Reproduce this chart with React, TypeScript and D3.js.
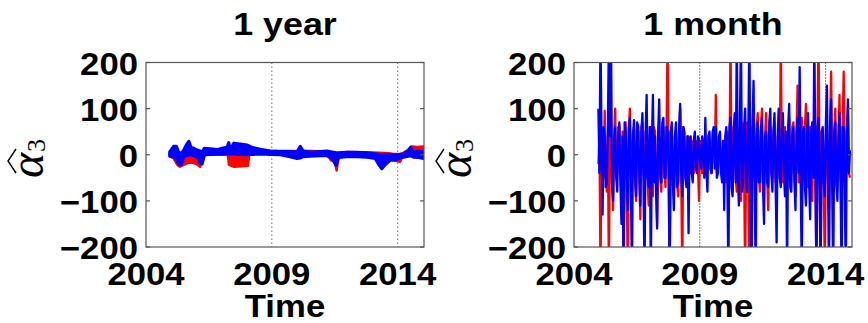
import React from "react";
import * as d3 from "d3";

// ---------- axes ----------
const YEAR_TICKS = [2004, 2009, 2014];
const GRID_YEARS = [2009, 2014];
const VALUE_TICKS = [-200, -100, 0, 100, 200];
const X_DOMAIN: [number, number] = [2004, 2015.05];
const Y_DOMAIN: [number, number] = [-200, 200];
const TITLES = ["1 year", "1 month"];
const X_LABEL = "Time";

// ---------- 1 year window (band envelopes of the dense series) ----------
const yearBlueTime = [2004.945, 2005.1, 2005.21, 2005.3, 2005.4, 2005.5, 2005.61, 2005.7, 2005.79, 2005.9, 2006.03, 2006.14, 2006.23, 2006.32, 2006.56, 2006.82, 2007.02, 2007.22, 2007.29, 2007.35, 2007.49, 2007.75, 2008.01, 2008.21, 2008.54, 2008.94, 2009.34, 2009.73, 2010.0, 2010.13, 2010.24, 2010.53, 2010.92, 2011.19, 2011.39, 2011.56, 2011.65, 2011.98, 2012.38, 2012.78, 2013.11, 2013.24, 2013.37, 2013.5, 2013.7, 2013.97, 2014.23, 2014.43, 2014.52, 2014.63, 2014.83, 2015.04];
const yearBlueLo = [-3, -5, -10, -20, -22, -4, -2, 0, 0, -2, -4, -18, -20, 0, 1, 2, 2, 3, 2, 2, 2, 1, 0, 1, 2, 1, 0, -4, -8, -7, -4, -3, -2, -2, -8, -23, -6, -4, -4, -5, -8, -20, -30, -22, -12, -10, -5, -3, -2, -5, -6, -8];
const yearBlueHi = [6, 18, 18, 5, 3, 10, 22, 29, 16, 14, 10, 8, 6, 14, 13, 11, 14, 16, 26, 10, 25, 23, 21, 16, 12, 8, 7, 7, 6, 18, 8, 6, 7, 8, 6, 4, 4, 5, 5, 4, 2, 1, 0, 1, 0, 0, 2, 8, 16, 5, 8, 6];

const yearRedTime = [2004.95, 2005.1, 2005.25, 2005.35, 2005.5, 2005.65, 2005.85, 2006.0, 2006.15, 2006.25, 2006.35, 2007.25, 2007.3, 2007.5, 2007.8, 2008.05, 2008.1, 2008.5, 2009.0, 2009.9, 2010.5, 2011.2, 2011.35, 2011.5, 2011.58, 2011.65, 2012.0, 2013.0, 2013.7, 2013.8, 2014.1, 2014.2, 2014.4, 2014.55, 2014.8, 2015.04];
const yearRedLo = [-3, -8, -22, -26, -22, -18, -17, -20, -26, -10, 0, 0, -22, -26, -25, -24, 0, 2, 2, 2, 2, 1, -12, -14, -34, -5, 0, 0, -2, -12, -15, -3, 2, 5, 3, 0];
const yearRedHi = [3, 2, 0, 0, 0, 2, 2, 0, 0, 2, 5, 5, 3, 3, 3, 3, 5, 8, 8, 8, 8, 7, 3, 3, 2, 4, 6, 5, 3, 2, 1, 3, 10, 18, 17, 18];

// ---------- 1 month window (half-month samples) ----------
const MONTH_START = 2004.97;
const MONTH_STEP = 1 / 24;
const monthRed = [
  -20, 40, -260, 30, 40, -50, 95, -30, -80, 40, -260, 50, 30, -60, -120, 40, 100, -50, -40, 60, 60, -40, -90, 50,
  -260, 40, 70, -60, -260, 50, 100, -40, -60, 50, 60, -60, -100, 40, 50, -50, -140, 60, 70, -40, -60, 50, 40, -60,
  -110, 40, 60, -50, -90, 60, 50, -40, -150, 30, 30, -50, -80, 60, 60, -40, -70, 50, 260, -40, -260, 50, 40, -50,
  -60, 40, 50, -60, -90, 50, 100, -40, -260, 60, 40, -50, -60, 40, 40, -30, -40, 30, 20, -40, -30, 30, 20, -30,
  -100, 30, 20, -40, -30, 20, 10, -30, -20, 40, 30, -30, -40, 40, 30, -20, 130, -40, -40, 40, 30, -30, -30, 30,
  20, -40, -60, 50, 40, -50, 260, -40, -80, 60, 60, -50, -80, 50, 40, -60, -100, 70, 60, -40, -260, 50, 70, -60,
  -260, 40, -260, 60, 50, -50, -70, 60, 90, -40, -80, 50, 100, -60, -60, 40, 90, -50, -120, 60, 60, -40, -50, 50,
  70, -60, -40, 40, 40, -50, 260, -40, -60, 50, 60, -60, -50, 40, 80, -50, -40, 60, 70, -40, -90, 50, 150, -60,
  -60, 40, 80, -50, -50, 60, 110, -40, -70, 50, 60, -60, -100, 40, 40, -50, -260, 60, 260, -40, -260, 50, 50, -60,
  -260, 40, 60, -50, -120, 60, 180, -40, -60, 50, 100, -60, -80, 40, 130, -50, -70, 60, 180, -40, -60, 50, 90, -40,
  -50,
];
const monthBlue = [
  100, -40, 260, 30, -130, 60, 40, -70, -60, 50, 260, 40, 260, -50, -100, 30, 60, -50, -80, 40, 70, -60, -150, 40,
  -260, 70, 50, -40, -120, 60, 80, -70, -260, 40, 75, -50, -90, 70, 60, -40, -110, 50, 90, -60, -260, 40, 130, -50,
  -70, 60, -260, 30, 130, -60, 40, -80, -160, 50, 120, -40, -60, 70, 80, -50, -50, 60, 50, -40, -260, 50, 70, -60,
  -120, 40, 70, -70, -60, 60, 110, -40, -90, 60, 50, -50, -70, 40, -170, 30, 40, -40, -60, 30, 50, -30, -40, 40,
  30, -20, -30, 40, 20, -50, 80, -30, -80, 40, 50, -30, -40, 50, 60, -30, 60, -50, -40, 40, 50, -40, -60, 30,
  -120, 40, 60, -50, -260, 60, 80, -70, -90, 50, 90, -60, 260, -40, -110, 70, 260, -80, -60, 60, 100, -70, -80, 50,
  260, -60, -260, 60, 160, -50, -260, 40, 70, -60, -60, 50, 80, -70, -150, 40, 50, -60, -70, 70, 100, -40, -80, 50,
  90, -60, -190, 40, 100, -50, -70, 60, 90, -40, -90, 50, -260, 60, 110, -70, -80, 40, 60, -60, -120, 50, 80, -40,
  190, -60, -260, 50, 60, -70, -110, 40, 90, -60, -140, 50, 70, -50, 260, -40, -260, 60, 80, -70, -260, 50, 60, -60,
  -90, 70, 150, -50, -260, 60, 120, -70, -260, 50, 70, -60, -100, 40, 90, -70, -260, 60, 60, -80, -260, 50, 120, -40,
  10,
];

// ---------- layout ----------
const PANEL_LEFTS = [146, 574];
const PLOT_W = 278;
const TOP = 62.5;
const BOTTOM = 247;
const SX = 1.12;
const SANS = "'Liberation Sans', Arial, Helvetica, sans-serif";
const RED = "#ff0000";
const BLUE = "#0000ff";

function Txt({ x, y, anchor, size, children }: any) {
  return (
    <text
      transform={`translate(${x},${y}) scale(${SX},1)`}
      textAnchor={anchor}
      fontSize={size}
      fontWeight="bold"
      fontFamily={SANS}
      fill="#000"
    >
      {children}
    </text>
  );
}

function Panel({ idx }: { idx: number }) {
  const left = PANEL_LEFTS[idx];
  const x = d3.scaleLinear().domain(X_DOMAIN).range([left, left + PLOT_W]);
  const y = d3.scaleLinear().domain(Y_DOMAIN).range([BOTTOM, TOP]);
  const clipId = `clip${idx}`;
  const center = left + PLOT_W / 2;

  let marks: React.ReactNode = null;
  if (idx === 0) {
    const band = (t: number[], lo: number[], hi: number[]) =>
      d3
        .area<number>()
        .x((i) => x(t[i]))
        .y0((i) => y(lo[i]))
        .y1((i) => y(hi[i]))(d3.range(t.length)) || "";
    marks = (
      <g clipPath={`url(#${clipId})`}>
        <path d={band(yearRedTime, yearRedLo, yearRedHi)} fill={RED} stroke={RED} strokeWidth={2.5} strokeLinejoin="round" />
        <path d={band(yearBlueTime, yearBlueLo, yearBlueHi)} fill={BLUE} stroke={BLUE} strokeWidth={3.2} strokeLinejoin="round" />
      </g>
    );
  } else {
    const line = d3
      .line<number>()
      .x((_, i) => x(MONTH_START + i * MONTH_STEP))
      .y((d) => y(d));
    marks = (
      <g clipPath={`url(#${clipId})`}>
        <path d={line(monthRed) || ""} fill="none" stroke={RED} strokeWidth={2.3} strokeLinejoin="round" />
        <path d={line(monthBlue) || ""} fill="none" stroke={BLUE} strokeWidth={2.3} strokeLinejoin="round" />
      </g>
    );
  }

  const lx = left - 103;
  return (
    <g>
      <defs>
        <clipPath id={clipId}>
          <rect x={left} y={TOP} width={PLOT_W} height={BOTTOM - TOP} />
        </clipPath>
      </defs>
      <rect x={left} y={TOP} width={PLOT_W} height={BOTTOM - TOP} fill="#fff" />
      {GRID_YEARS.map((g) => (
        <line
          key={g}
          x1={x(g)}
          x2={x(g)}
          y1={TOP}
          y2={BOTTOM}
          stroke={idx === 0 ? "#888" : "#000"}
          strokeWidth={idx === 0 ? 1.2 : 1}
          strokeDasharray={idx === 0 ? "1.5,2.5" : "1,2"}
        />
      ))}
      {marks}
      <rect x={left} y={TOP} width={PLOT_W} height={BOTTOM - TOP} fill="none" stroke="#555" strokeWidth={1.2} />
      {VALUE_TICKS.map((v) => (
        <g key={v}>
          <line x1={left} x2={left + 4} y1={y(v)} y2={y(v)} stroke="#555" strokeWidth={1.2} />
          <line x1={left + PLOT_W - 4} x2={left + PLOT_W} y1={y(v)} y2={y(v)} stroke="#555" strokeWidth={1.2} />
          <Txt x={left - 8} y={y(v) + 12} anchor="end" size={31}>
            {v < 0 ? `\u2212${Math.abs(v)}` : `${v}`}
          </Txt>
        </g>
      ))}
      {YEAR_TICKS.map((t) => (
        <Txt key={t} x={x(t)} y={285} anchor="middle" size={31}>
          {t}
        </Txt>
      ))}
      <Txt x={center} y={317} anchor="middle" size={31}>
        {X_LABEL}
      </Txt>
      <Txt x={center} y={35} anchor="middle" size={32}>
        {TITLES[idx]}
      </Txt>
      <g transform={`translate(${lx},178) rotate(-90)`}>
        <text x={0} y={0} fontFamily="'Liberation Serif', 'DejaVu Serif', serif" fontStyle="italic" fontSize={48}>
          α
        </text>
        <text x={26} y={2} fontFamily="'Liberation Serif', 'DejaVu Serif', serif" fontSize={26}>
          3
        </text>
        <path d="M5,-27 L17,-35 L29,-27" fill="none" stroke="#000" strokeWidth={1.4} />
      </g>
    </g>
  );
}

export default function App() {
  return (
    <svg
      width={868}
      height={323}
      viewBox="0 0 868 323"
      style={{ position: "absolute", left: 0, top: 0, display: "block", background: "#fff" }}
    >
      <rect x={0} y={0} width={868} height={323} fill="#fff" />
      <Panel idx={0} />
      <Panel idx={1} />
    </svg>
  );
}
